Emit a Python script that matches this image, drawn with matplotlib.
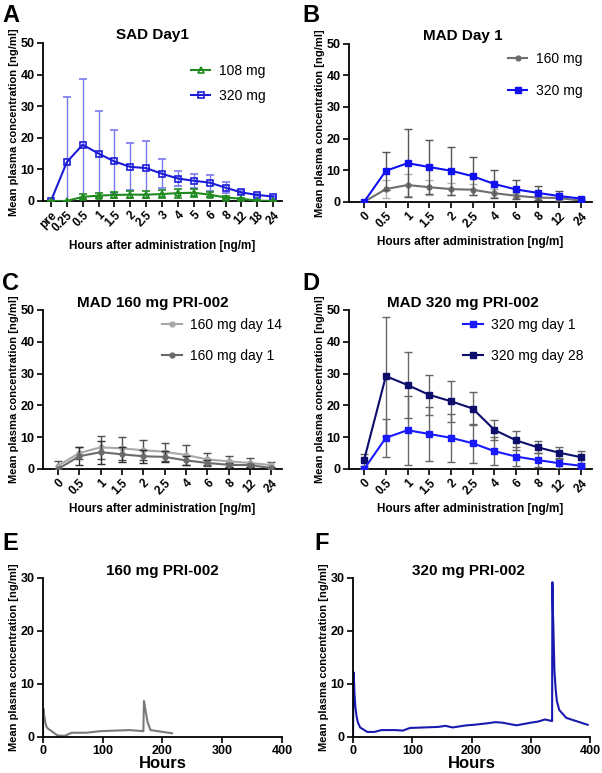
import numpy as np
import matplotlib
matplotlib.use('Agg')
import matplotlib.pyplot as plt

plt.rcParams['font.family'] = ['Liberation Sans', 'DejaVu Sans']
plt.rcParams['font.weight'] = 'bold'

# ---- data ----
sad_times = ['pre', '0.25', '0.5', '1', '1.5', '2', '2.5', '3', '4', '5', '6', '8', '12', '18', '24']
sad_108 = [0, 0, 1.3, 1.7, 1.9, 2.0, 2.0, 2.2, 2.5, 2.6, 2.0, 1.1, 0.7, 0.1, 0]
sad_108_err = [0, 0, 0.8, 0.8, 1.0, 1.2, 1.2, 1.3, 1.4, 1.2, 0.8, 0.5, 0.3, 0.2, 0]
sad_320 = [0, 12.3, 17.8, 15.0, 12.5, 10.8, 10.4, 8.6, 7.1, 6.4, 5.8, 4.2, 2.7, 1.9, 1.4]
sad_320_err = [0, 20.7, 20.9, 13.5, 10.1, 7.4, 8.5, 4.6, 2.5, 2.2, 2.5, 1.8, 0.5, 0.3, 0.3]

mad_times = ['0', '0.5', '1', '1.5', '2', '2.5', '4', '6', '8', '12', '24']
mad_160_d1 = [0, 4.0, 5.3, 4.6, 4.0, 3.8, 2.7, 1.9, 1.3, 1.2, 0.3]
mad_160_d1_err = [0, 2.8, 3.6, 2.4, 2.0, 1.7, 1.3, 0.8, 0.7, 0.5, 0.2]
mad_160_d14 = [1.0, 5.0, 6.8, 6.5, 5.9, 5.4, 4.4, 3.0, 2.4, 1.9, 1.2]
mad_160_d14_err = [1.6, 2.0, 3.7, 3.7, 3.1, 2.9, 3.0, 2.0, 1.8, 1.4, 1.1]
mad_320_d1 = [0, 9.8, 12.2, 11.0, 9.8, 8.1, 5.6, 3.9, 2.8, 1.8, 1.0]
mad_320_d1_err = [0, 6.0, 10.8, 8.6, 7.6, 6.1, 4.4, 2.9, 2.2, 1.6, 0.3]
mad_320_d28 = [2.9, 29.2, 26.4, 23.3, 21.3, 19.0, 12.3, 9.0, 6.8, 5.1, 3.7]
mad_320_d28_err = [1.9, 18.7, 10.5, 6.2, 6.5, 5.3, 3.2, 3.0, 1.9, 1.9, 1.8]

e_hours = [0, 0.5, 1, 1.5, 2, 2.5, 4, 6, 8, 12, 24, 36, 48, 72, 96, 120, 144, 168, 169, 175, 180, 192, 216]
e_conc = [0, 4.0, 5.3, 4.6, 4.0, 3.8, 2.7, 1.9, 1.6, 1.3, 0.3, 0.2, 0.8, 0.8, 1.1, 1.2, 1.3, 1.1, 6.8, 2.8, 1.3, 1.1, 0.7]

f_hours = [0, 0.5, 1, 1.5, 2, 2.5, 4, 6, 8, 12, 24, 36, 48, 72, 84, 96, 120, 144, 156, 168, 192, 204,
           228, 240, 252, 276, 300, 312, 324, 336, 336.5, 337, 337.5, 338, 338.5, 340, 342, 344, 348, 360, 396]
f_conc = [0, 9.8, 12.2, 11.0, 9.8, 8.1, 5.6, 3.9, 2.8, 1.8, 0.95, 0.95, 1.3, 1.3, 1.2, 1.7, 1.8, 1.9, 2.1, 1.8, 2.2, 2.3,
          2.6, 2.8, 2.7, 2.2, 2.7, 2.9, 3.3, 3.0, 29.2, 26.4, 23.3, 21.3, 19.0, 12.3, 9.0, 6.8, 5.1, 3.6, 2.3]

ylab = 'Mean plasma concentration [ng/ml]'
xlab = 'Hours after administration [ng/m]'

fig = plt.figure(figsize=(6.02, 7.73), dpi=100)


def style(ax, ymax, ystep):
    ax.spines['top'].set_visible(False)
    ax.spines['right'].set_visible(False)
    ax.spines['left'].set_linewidth(1.3)
    ax.spines['bottom'].set_linewidth(1.3)
    ax.set_ylim(0, ymax)
    ax.set_yticks(np.arange(0, ymax + 1, ystep))
    ax.tick_params(direction='out', width=1.2, length=4, labelsize=9, pad=2)
    for t in ax.get_yticklabels():
        t.set_fontweight('bold')
    ax.set_ylabel(ylab, fontsize=8, fontweight='bold', labelpad=1)


def cat_axis(ax, labels, left_pad, right_pad):
    x = np.arange(len(labels))
    ax.set_xticks(x)
    ax.set_xticklabels(labels, rotation=45, ha='right', rotation_mode='anchor', fontsize=8.5, fontweight='bold')
    ax.set_xlim(-left_pad, len(labels) - 1 + right_pad)
    ax.set_xlabel(xlab, fontsize=8.5, fontweight='bold', labelpad=4)
    return x


def legend(ax, handles, labels, anchor, spacing):
    leg = ax.legend([h[0] for h in handles], labels, loc='upper right', bbox_to_anchor=anchor,
                    frameon=False, fontsize=10, labelspacing=spacing, handlelength=1.4,
                    handletextpad=0.6, borderaxespad=0, borderpad=0)
    for t in leg.get_texts():
        t.set_fontweight('normal')


# A
ax = fig.add_axes([0.0714, 0.740, 0.397, 0.2044])
style(ax, 50, 10)
x = cat_axis(ax, sad_times, 0.5, 0.55)
h1 = ax.errorbar(x, sad_108, yerr=sad_108_err, color='#1f8a1f', ecolor='#1f8a1f', elinewidth=1, capsize=3,
                 marker='^', markersize=4.5, mfc='none', mew=1.2, lw=1.5, zorder=3)
h2 = ax.errorbar(x, sad_320, yerr=sad_320_err, color='#1c1cd8', ecolor='#7878ee', elinewidth=1, capsize=3,
                 marker='s', markersize=5, mfc='none', mew=1.2, lw=1.5, zorder=2)
ax.set_title('SAD Day1', fontsize=11, fontweight='bold', pad=3, x=0.46)
legend(ax, [h1, h2], ['108 mg', '320 mg'], (0.93, 0.87), 0.85)

# B
ax = fig.add_axes([0.5797, 0.739, 0.4037, 0.2044])
style(ax, 50, 10)
x = cat_axis(ax, mad_times, 0.7, 0.5)
h1 = ax.errorbar(x, mad_160_d1, yerr=mad_160_d1_err, color='#6e6e6e', ecolor='#b0b0b0', elinewidth=1, capsize=3,
                 marker='o', markersize=3.5, lw=1.5, zorder=2)
h2 = ax.errorbar(x, mad_320_d1, yerr=mad_320_d1_err, color='#1010f0', ecolor='#555555', elinewidth=1, capsize=3,
                 marker='s', markersize=4.5, lw=1.5, zorder=3)
ax.set_title('MAD Day 1', fontsize=11, fontweight='bold', pad=3, x=0.47)
legend(ax, [h1, h2], ['160 mg', '320 mg'], (0.96, 0.95), 1.3)

# C
ax = fig.add_axes([0.0714, 0.3933, 0.397, 0.2057])
style(ax, 50, 10)
x = cat_axis(ax, mad_times, 0.7, 0.5)
h1 = ax.errorbar(x, mad_160_d14, yerr=mad_160_d14_err, color='#a8a8a8', ecolor='#505050', elinewidth=1, capsize=3,
                 marker='o', markersize=3.5, lw=1.5, zorder=2)
h2 = ax.errorbar(x, mad_160_d1, yerr=mad_160_d1_err, color='#6a6a6a', ecolor='#303030', elinewidth=1, capsize=3,
                 marker='o', markersize=3.5, lw=1.5, zorder=3)
ax.set_title('MAD 160 mg PRI-002', fontsize=11, fontweight='bold', pad=2, x=0.46)
legend(ax, [h1, h2], ['160 mg day 14', '160 mg day 1'], (1.0, 0.95), 1.2)

# D
ax = fig.add_axes([0.5797, 0.3933, 0.4037, 0.2057])
style(ax, 50, 10)
x = cat_axis(ax, mad_times, 0.7, 0.5)
h1 = ax.errorbar(x, mad_320_d1, yerr=mad_320_d1_err, color='#1a1aff', ecolor='#666666', elinewidth=1, capsize=3,
                 marker='s', markersize=4.5, lw=1.5, zorder=3)
h2 = ax.errorbar(x, mad_320_d28, yerr=mad_320_d28_err, color='#0d0d6b', ecolor='#666666', elinewidth=1, capsize=3,
                 marker='s', markersize=4.5, lw=1.5, zorder=2)
ax.set_title('MAD 320 mg PRI-002', fontsize=11, fontweight='bold', pad=2, x=0.47)
legend(ax, [h1, h2], ['320 mg day 1', '320 mg day 28'], (0.965, 0.95), 1.2)

# E
ax = fig.add_axes([0.0714, 0.0466, 0.397, 0.2057])
style(ax, 30, 10)
ax.plot(e_hours, e_conc, color='#7a7a7a', lw=1.5)
ax.set_xlim(0, 400)
ax.set_xticks([0, 100, 200, 300, 400])
for t in ax.get_xticklabels():
    t.set_fontweight('bold')
ax.set_xlabel('Hours', fontsize=12, fontweight='bold', labelpad=-1)
ax.set_title('160 mg PRI-002', fontsize=11, fontweight='bold', pad=2)

# F
ax = fig.add_axes([0.5864, 0.0466, 0.3937, 0.2057])
style(ax, 30, 10)
ax.plot(f_hours, f_conc, color='#1a1ab0', lw=1.5)
ax.set_xlim(0, 400)
ax.set_xticks([0, 100, 200, 300, 400])
for t in ax.get_xticklabels():
    t.set_fontweight('bold')
ax.set_xlabel('Hours', fontsize=12, fontweight='bold', labelpad=-1)
ax.set_title('320 mg PRI-002', fontsize=11, fontweight='bold', pad=2, x=0.485)

# panel letters
for letter, px, py in [('A', 2, 15), ('B', 302, 15), ('C', 2, 284), ('D', 302, 284), ('E', 2, 543), ('F', 314, 543)]:
    fig.text(px / 602, 1 - py / 773, letter, fontsize=17, fontweight='bold', va='center', ha='left')

fig.savefig('out.png', dpi=100)
